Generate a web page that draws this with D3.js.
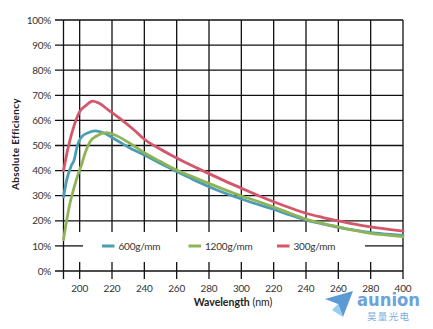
<!DOCTYPE html>
<html><head><meta charset="utf-8">
<script src="https://cdn.jsdelivr.net/npm/d3@7"></script>
<style>body{margin:0;background:#fff;}svg{display:block;font-family:Lato,"DejaVu Sans",sans-serif;}</style>
</head><body>
<svg id="c" width="433" height="329"></svg>
<script>
const xTickValues = [200,220,240,260,280,300,320,340,360,380,400];
const xTickLabels = ["200","220","240","260","280","300","220","240","260","280","400"];
const yTickValues = [0,10,20,30,40,50,60,70,80,90,100];
const yTickLabels = ["0%","10%","20%","30%","40%","50%","60%","70%","80%","90%","100%"];
const seriesNames = ["600g/mm","1200g/mm","300g/mm"];
const seriesColors = ["#4a9db2","#8fb457","#d4566a"];

const nm600 = [190,192,194.6,196.7,198.2,201.3,205.3,209.5,214.6,221.8,231,240,250,260,270,280,290,300,310,320,330,340,350,360,370,380,390,400];
const eff600 = [29.5,36.3,41.6,44.5,49,53.5,55.1,55.8,55.1,52.5,49,46.2,42.8,39.6,36.5,33.6,31,28.7,26.6,24.6,22.3,20.3,18.8,17.4,16.3,15.3,14.7,14.2];
const nm1200 = [190,192,194,196.7,199.2,201.5,203.3,206.4,210.5,216.7,221.8,231,240,250,260,270,280,290,300,310,320,330,340,350,360,370,380,390,400];
const eff1200 = [12.5,20.3,27,33.6,38.9,43,46.9,51.5,53.8,55.1,54.2,50.9,47.1,43.6,40.2,37.5,34.9,32.3,29.9,27.8,25.5,23,20.7,19,17.6,16.2,15,14.3,13.7];
const nm300 = [190,193,197,200,204,208,211.5,218,226,234,240,250,260,270,280,290,300,310,320,330,340,350,360,370,380,390,400];
const eff300 = [40,49.5,58.8,63.5,66,67.7,67,64,60.2,56,52.5,48.5,45,41.8,38.8,35.8,33,30.2,27.6,25.2,23,21.4,20,18.7,17.6,16.7,15.9];

const series = [
  {name: seriesNames[0], color: seriesColors[0], x: nm600, y: eff600},
  {name: seriesNames[1], color: seriesColors[1], x: nm1200, y: eff1200},
  {name: seriesNames[2], color: seriesColors[2], x: nm300, y: eff300}
];

const svg = d3.select("#c");
const x = d3.scaleLinear().domain([190,400]).range([63.5,403]);
const y = d3.scaleLinear().domain([0,100]).range([271,20]);
const gridColor = "#111";
const g = svg.append("g");

// horizontal grid
yTickValues.forEach(v => {
  const yy = y(v);
  if (v === 10) {
    [[55,83],[365,x(400)]].forEach(s => g.append("line").attr("x1",s[0]).attr("x2",s[1]).attr("y1",yy).attr("y2",yy).attr("stroke",gridColor).attr("stroke-width",1.3));
  } else {
    g.append("line").attr("x1",55).attr("x2",x(400)).attr("y1",yy).attr("y2",yy).attr("stroke",gridColor).attr("stroke-width",1.3);
  }
});
// vertical grid
xTickValues.forEach(v => {
  const xx = x(v);
  if (v === 400) {
    g.append("line").attr("x1",xx).attr("x2",xx).attr("y1",y(100)).attr("y2",279).attr("stroke",gridColor).attr("stroke-width",1.3);
  } else {
    [[y(100),232],[262,279]].forEach(s => g.append("line").attr("x1",xx).attr("x2",xx).attr("y1",s[0]).attr("y2",s[1]).attr("stroke",gridColor).attr("stroke-width",1.3));
  }
});
// left axis
g.append("line").attr("x1",x(190)).attr("x2",x(190)).attr("y1",y(100)).attr("y2",279).attr("stroke",gridColor).attr("stroke-width",1.3);

// y labels
yTickValues.forEach((v,i) => {
  g.append("text").attr("x",51).attr("y",y(v)+3.6).attr("text-anchor","end")
   .attr("font-size",10).attr("fill","#333").attr("letter-spacing","-0.3").text(yTickLabels[i]);
});
// x labels
xTickValues.forEach((v,i) => {
  g.append("text").attr("x",x(v)).attr("y",292).attr("text-anchor","middle")
   .attr("font-size",10).attr("fill","#333").attr("letter-spacing","-0.2").text(xTickLabels[i]);
});

// curves
const line = d3.line().x(d => x(d[0])).y(d => y(d[1])).curve(d3.curveMonotoneX);
series.forEach(s => {
  const pts = s.x.map((v,i) => [v, s.y[i]]);
  svg.append("path").attr("d", line(pts)).attr("fill","none").attr("stroke",s.color)
    .attr("stroke-width",2.8).attr("stroke-linejoin","round").attr("stroke-linecap","round");
});

// legend
const legX = [102, 188.5, 277];
series.forEach((s,i) => {
  svg.append("line").attr("x1",legX[i]).attr("x2",legX[i]+12.5).attr("y1",246).attr("y2",246)
    .attr("stroke",s.color).attr("stroke-width",3);
  svg.append("text").attr("x",legX[i]+16.5).attr("y",249.5).attr("font-size",10).attr("fill","#333")
    .attr("letter-spacing","-0.2").text(s.name);
});

// axis titles
const xt = svg.append("text").attr("x",233).attr("y",306).attr("text-anchor","middle").attr("font-size",10.5).attr("fill","#222");
xt.append("tspan").attr("font-weight","bold").text("Wavelength");
xt.append("tspan").text(" (nm)");
svg.append("text").attr("transform","translate(19,144) rotate(-90)").attr("text-anchor","middle")
  .attr("font-size",10).attr("font-weight","bold").attr("fill","#222").attr("letter-spacing","0.3").text("Absolute Efficiency");

// watermark logo (semi-transparent, as in the reference)
const lg = svg.append("g").attr("opacity",0.9);
lg.append("path").attr("d","M325,299 L353,291 L343,317 L338,304 Z").attr("fill","#4a90d0");
lg.append("path").attr("d","M338,304 L343,317 L332,310 Z").attr("fill","#8cc8ec");
lg.append("text").attr("x",357).attr("y",306).attr("font-size",17).attr("font-weight","bold").attr("fill","#5b9ad8")
  .attr("font-family","'DejaVu Sans',sans-serif").attr("textLength",63).attr("lengthAdjust","spacingAndGlyphs").text("aunion");
lg.append("text").attr("x",367).attr("y",320).attr("font-size",9.5).attr("fill","#6aa6dc")
  .attr("font-family","'Noto Sans CJK SC',sans-serif").attr("textLength",42).text("昊量光电");
</script>
</body></html>
